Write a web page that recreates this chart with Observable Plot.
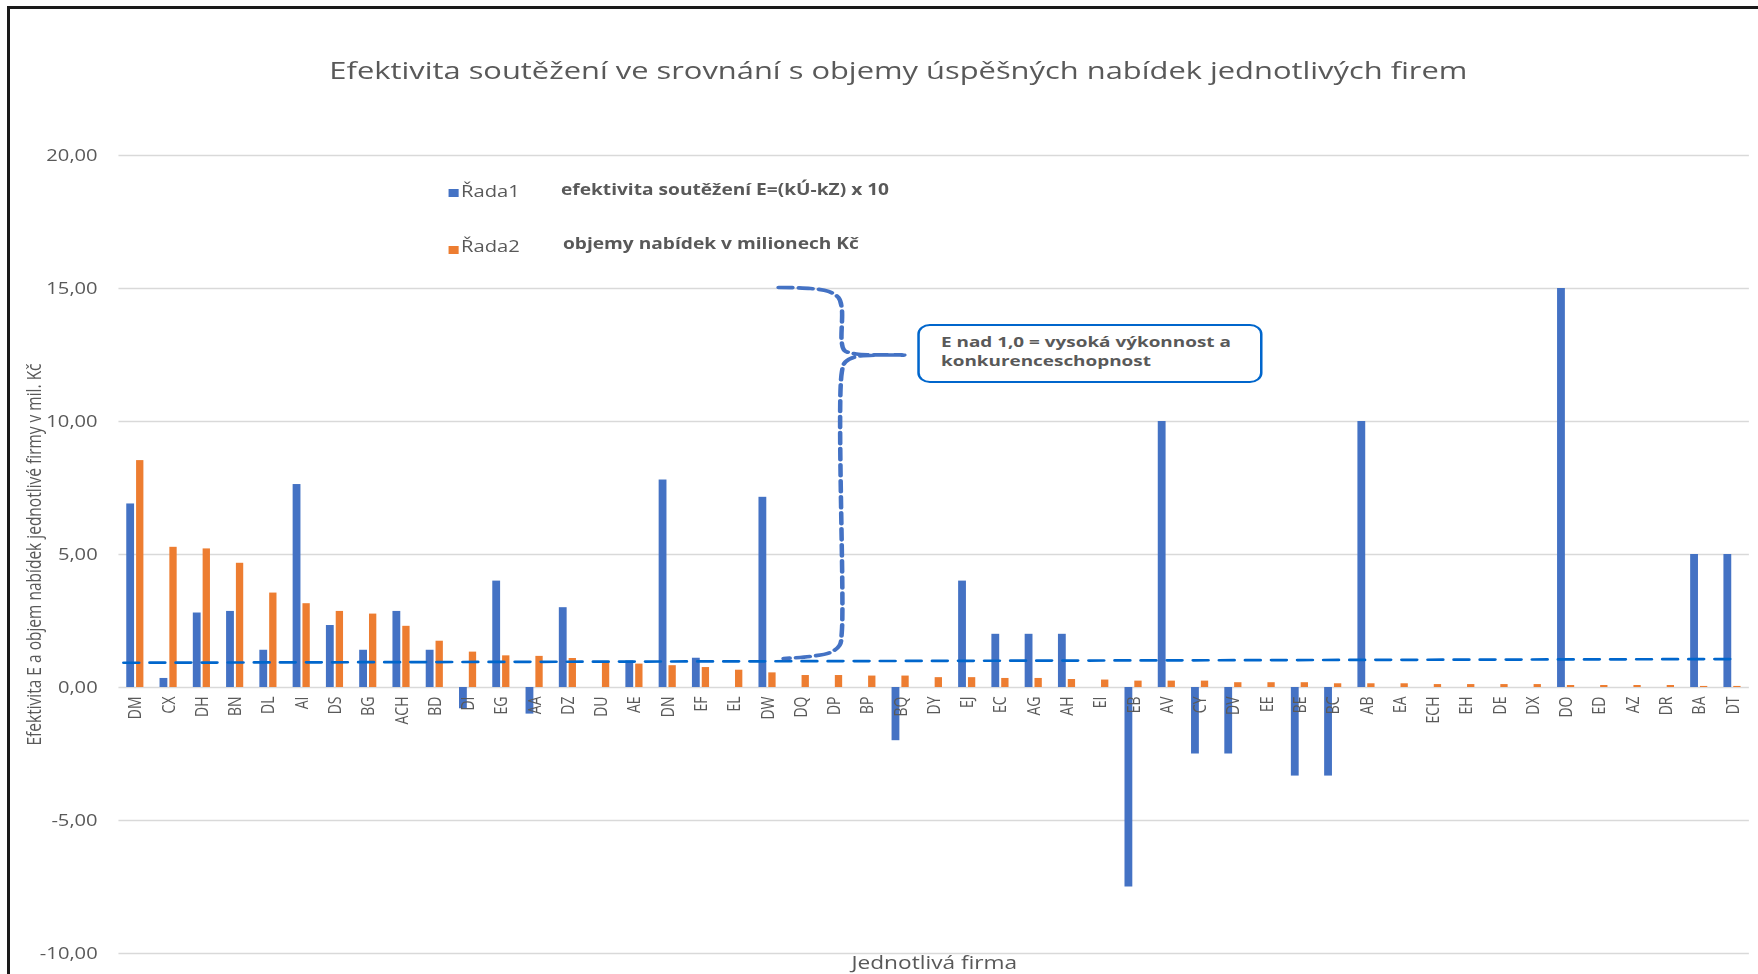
<!DOCTYPE html>
<html>
<head>
<meta charset="utf-8">
<script src="https://cdn.jsdelivr.net/npm/d3@7"></script>
<script src="https://cdn.jsdelivr.net/npm/@observablehq/plot@0.6"></script>
<style>
  html, body { margin: 0; padding: 0; background: #fff; overflow: hidden; }
  #page { position: relative; width: 1758px; height: 974px; overflow: hidden; background: #fff; }
  #frameTop { position: absolute; left: 7px; top: 6px; width: 1751px; height: 2.5px; background: #1a1a1a; }
  #frameLeft { position: absolute; left: 7px; top: 6px; width: 3px; height: 968px; background: #1a1a1a; }
  #stage { position: absolute; left: 0; top: 0; width: 1395px; height: 974px;
           transform: scaleX(1.26); transform-origin: 0 0;
           font-family: "Open Sans", sans-serif; color: #595959; }
  #title { position: absolute; top: 58px; left: 713px; transform: translateX(-50%);
           font-size: 24.5px; line-height: 24.5px; white-space: nowrap; color: #595959; }
  #chart { position: absolute; left: 0; top: 110px; }
  .lg { position: absolute; white-space: nowrap; }
  .sw { position: absolute; width: 8px; height: 8px; }
  .lgname { font-size: 16px; line-height: 16px; }
  .lgdesc { font-size: 15.2px; line-height: 15.2px; font-weight: 700; }
  #note { position: absolute; left: 727.8px; top: 324px; width: 274.6px; height: 59px; box-sizing: border-box;
          border: 2.4px solid #0066CC; border-radius: 10px; background: #fff;
          padding: 6.3px 0 0 17px; font-size: 15px; line-height: 19px; font-weight: 700; color: #595959; white-space: nowrap; }
</style>
</head>
<body>
<div id="page">
  <div id="stage">
    <div id="title"></div>
    <div id="chart"></div>
    <div class="sw" id="sw1" style="left:355.6px; top:189px;"></div>
    <div class="lg lgname" id="n1" style="left:365.9px; top:182.8px;"></div>
    <div class="lg lgdesc" id="d1" style="left:445.2px; top:181.5px;"></div>
    <div class="sw" id="sw2" style="left:355.6px; top:246px;"></div>
    <div class="lg lgname" id="n2" style="left:365.9px; top:238.3px;"></div>
    <div class="lg lgdesc" id="d2" style="left:446.8px; top:236.3px;"></div>
    <div id="note"></div>
  </div>
  <div id="frameTop"></div>
  <div id="frameLeft"></div>
</div>
<script>
// ---- data ----
const titleText = "Efektivita soutěžení ve srovnání s objemy úspěšných nabídek jednotlivých firem";
const yTitle = "Efektivita E a objem nabídek jednotlivé firmy v mil. Kč";
const xTitle = "Jednotlivá firma";
const seriesNames = ["Řada1", "Řada2"];
const seriesDesc = ["efektivita soutěžení E=(kÚ-kZ) x 10", "objemy nabídek v milionech Kč"];
const seriesColors = ["#4472C4", "#ED7D31"];
const noteLines = ["E nad 1,0 = vysoká výkonnost a", "konkurenceschopnost"];

const firms = ["DM","CX","DH","BN","DL","AI","DS","BG","ACH","BD","DI","EG","AA","DZ","DU","AE","DN","EF","EL","DW",
  "DQ","DP","BP","BQ","DY","EJ","EC","AG","AH","EI","EB","AV","CY","DV","EE","BE","BC","AB","EA","ECH",
  "EH","DE","DX","DO","ED","AZ","DR","BA","DT"];
const rada1 = [6.9, 0.34, 2.8, 2.86, 1.4, 7.63, 2.33, 1.4, 2.86, 1.4, -0.8, 4.0, -1.0, 3.0, 0, 1.0, 7.8, 1.1, 0, 7.15,
  0, 0, 0, -2.0, 0, 4.0, 2.0, 2.0, 2.0, 0, -7.5, 10, -2.5, -2.5, 0, -3.33, -3.33, 10, 0, 0,
  0, 0, 0, 15, 0, 0, 0, 5, 5];
const rada2 = [8.53, 5.27, 5.21, 4.67, 3.55, 3.15, 2.86, 2.76, 2.30, 1.74, 1.33, 1.19, 1.17, 1.09, 0.98, 0.88, 0.82, 0.75, 0.65, 0.55,
  0.45, 0.45, 0.43, 0.43, 0.37, 0.37, 0.34, 0.34, 0.30, 0.28, 0.24, 0.24, 0.24, 0.18, 0.18, 0.18, 0.14, 0.14, 0.14, 0.11,
  0.11, 0.11, 0.11, 0.075, 0.075, 0.075, 0.075, 0.04, 0.04];
const yTicks = [-10, -5, 0, 5, 10, 15, 20];

// dashed threshold line (firm index, value)
const levelX = [-0.36, 48.1];
const levelY = [0.93, 1.07];

// curly brace annotation outline (firm index, value)
const braceX = [19.32, 20.28, 20.82, 21.12, 21.22, 21.22, 21.30, 21.66, 23.10, 21.66, 21.33, 21.22, 21.22, 21.15, 20.88, 20.28, 19.47];
const braceY = [15.04, 15.0, 14.89, 14.66, 14.25, 12.97, 12.67, 12.54, 12.50, 12.44, 12.24, 11.84, 2.07, 1.58, 1.32, 1.17, 1.09];

// ---- build ----
const rows = firms.map((f, i) => ({firm: f, i, a: rada1[i], b: rada2[i]}));
const level = levelX.map((x, k) => ({x, y: levelY[k]}));
const brace = braceX.map((x, k) => ({x, y: braceY[k]}));
const fmt = d => d.toFixed(2).replace(".", ",");

const chart = Plot.plot({
  width: 1395,
  height: 864,
  marginTop: 45,
  marginBottom: 21,
  marginLeft: 94,
  marginRight: 7,
  style: {fontFamily: "'Open Sans', sans-serif", fontSize: "16px", color: "#595959", background: "transparent", overflow: "visible"},
  x: {domain: [-0.5, firms.length - 0.5], axis: null},
  y: {domain: [-10, 20], ticks: yTicks, tickFormat: fmt, tickSize: 0, tickPadding: 17, label: null},
  marks: [
    Plot.ruleY(yTicks, {stroke: "#d9d9d9", strokeWidth: 1.3}),
    Plot.rectY(rows.filter(d => d.a !== 0), {x1: d => d.i - 0.265, x2: d => d.i - 0.03, y1: 0, y2: "a", fill: seriesColors[0]}),
    Plot.rectY(rows, {x1: d => d.i + 0.03, x2: d => d.i + 0.25, y1: 0, y2: "b", fill: seriesColors[1]}),
    Plot.line(level, {x: "x", y: "y", stroke: "#0066CC", strokeWidth: 2.7, strokeDasharray: "12,8.7"}),
    Plot.line(brace, {x: "x", y: "y", curve: "catmull-rom", stroke: "#4472C4", strokeWidth: 3.6, strokeDasharray: "11,5"}),
    Plot.text(rows, {x: "i", y: 0, text: "firm", rotate: -90, textAnchor: "end", dy: 9, fontSize: 14, fill: "#595959"}),
    Plot.text([yTitle], {frameAnchor: "left", textAnchor: "middle", rotate: -90, dx: -67, fontSize: 15.5, fill: "#595959"}),
    Plot.text([xTitle], {frameAnchor: "bottom", lineAnchor: "top", dy: 3, fontSize: 18, fill: "#595959"})
  ]
});
document.getElementById("chart").appendChild(chart);

document.getElementById("title").textContent = titleText;
document.getElementById("sw1").style.background = seriesColors[0];
document.getElementById("sw2").style.background = seriesColors[1];
document.getElementById("n1").textContent = seriesNames[0];
document.getElementById("n2").textContent = seriesNames[1];
document.getElementById("d1").textContent = seriesDesc[0];
document.getElementById("d2").textContent = seriesDesc[1];
document.getElementById("note").innerHTML = noteLines.join("<br>");
</script>
</body>
</html>
